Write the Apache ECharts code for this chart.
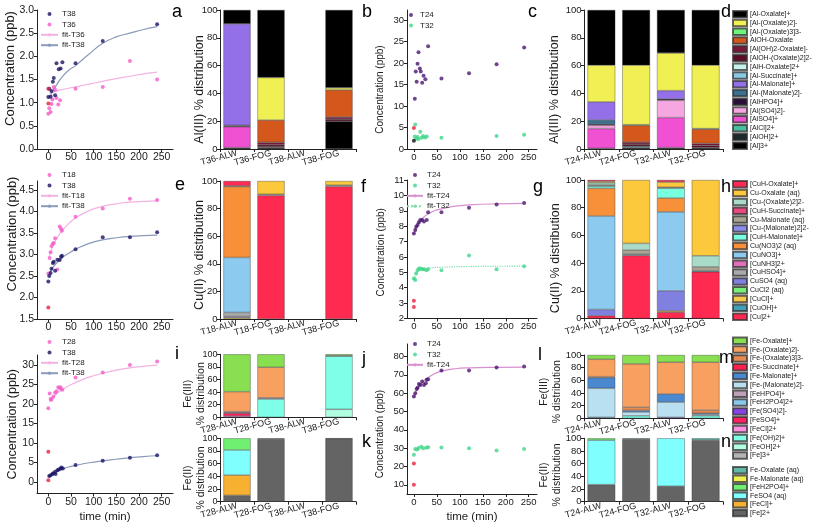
<!DOCTYPE html>
<html><head><meta charset="utf-8">
<script src="https://cdn.jsdelivr.net/npm/echarts@6/dist/echarts.min.js"></script>
<style>html,body{margin:0;padding:0;background:#fff}#c{width:815px;height:532px}</style>
</head><body><div id="c"></div>
<script>
// ---------------- DATA ----------------
const timeTicks = [0, 50, 100, 150, 200, 250];

// Panel a (Al)
const aT38 = [[0,1.12],[2,1.3],[5,1.13],[7,1.25],[10,1.45],[12,1.53],[15,1.16],[18,1.85],[23,1.72],[27,1.74],[31,1.87],[60,1.85],[120,2.33],[240,2.69]];
const aT36 = [[0,0.76],[2,0.88],[5,0.8],[7,0.97],[9,1.07],[12,1.34],[15,1.28],[18,1.1],[22,0.96],[26,1.05],[60,1.3],[120,1.34],[180,1.9],[240,1.5]];
const aInit = [[0,1.3],[0,0.98]];
const aFit36 = [[2,1.2],[15,1.24],[30,1.28],[60,1.34],[90,1.4],[120,1.46],[150,1.52],[180,1.57],[210,1.62],[240,1.66]];
const aFit38 = [[5,1.15],[10,1.25],[16,1.35],[30,1.55],[45,1.7],[60,1.8],[90,2.05],[120,2.28],[150,2.42],[180,2.5],[210,2.58],[240,2.64]];

// Panel b (Al)
const bT24 = [[2,11.7],[4,18.0],[6,15.6],[8,19.8],[10,22.5],[13,18.7],[15,18.0],[18,15.4],[21,17.0],[25,16.2],[31,23.9],[60,16.4],[120,17.6],[180,19.7],[240,23.6]];
const bT32 = [[2,2.9],[3,5.7],[5,2.4],[8,2.8],[10,2.3],[14,4.0],[17,2.6],[20,3.0],[24,2.7],[28,2.9],[60,2.6],[180,3.0],[240,3.3]];
const bInitRed = [[0,4.9]];
const bInitBlack = [[0,1.9]];

// Panel e (Cu)
const eT18 = [[0,2.56],[3,2.92],[5,3.05],[7,3.2],[10,3.25],[12,3.27],[15,3.38],[20,2.65],[25,3.65],[28,3.6],[30,3.55],[60,3.88],[120,4.07],[180,4.3],[240,4.27]];
const eT38 = [[0,2.37],[2,2.5],[5,2.57],[7,2.67],[10,2.8],[12,2.83],[15,2.62],[20,2.88],[25,2.87],[28,2.95],[30,2.97],[60,3.12],[120,3.4],[180,3.4],[240,3.52]];
const eInit = [[0,1.77]];
const eFit18 = [[2,2.95],[10,3.2],[20,3.4],[30,3.55],[45,3.72],[60,3.85],[90,4.02],[120,4.12],[150,4.18],[180,4.22],[240,4.25]];
const eFit38 = [[2,2.55],[10,2.7],[20,2.82],[30,2.92],[45,3.03],[60,3.12],[90,3.26],[120,3.34],[150,3.39],[180,3.42],[240,3.45]];

// Panel f (Cu)
const fT24 = [[0,7.53],[3,7.75],[5,7.96],[8,8.07],[11,8.25],[14,8.4],[18,8.4],[22,8.3],[28,8.4],[31,8.9],[60,8.9],[120,9.2],[180,9.4],[240,9.5]];
const fT32 = [[0,4.6],[3,4.5],[5,4.93],[8,5.14],[11,5.25],[15,5.25],[18,5.2],[22,5.2],[27,5.14],[31,5.2],[60,5.14],[120,6.1],[180,5.2],[240,5.4]];
const fInit = [[0,3.15],[0,2.75]];
const fFit24 = [[0,7.5],[5,7.9],[10,8.2],[20,8.55],[30,8.78],[45,9.0],[60,9.12],[90,9.3],[120,9.38],[180,9.45],[240,9.48]];
const fFit32 = [[0,4.55],[5,4.9],[10,5.08],[20,5.22],[30,5.28],[60,5.33],[120,5.38],[240,5.4]];

// Panel i (Fe)
const iT28 = [[0,18.9],[3,22.7],[5,21.3],[7,21.1],[11,21.9],[15,22.9],[18,23.3],[22,24.3],[26,24.0],[27,24.3],[31,23.7],[60,26.8],[120,28.1],[180,30.0],[240,30.9]];
const iT38 = [[2,1.5],[5,1.7],[9,2.0],[11,2.2],[15,2.6],[16,2.0],[20,3.0],[23,3.2],[27,3.4],[29,3.7],[32,3.4],[60,4.3],[120,5.4],[180,6.2],[240,6.8]];
const iInit = [[0,7.7],[0,0.4]];
const iFit28 = [[2,20.5],[10,21.7],[20,22.8],[30,23.6],[45,24.7],[60,25.5],[90,26.9],[120,27.9],[150,28.7],[180,29.3],[210,29.7],[240,30.0]];
const iFit38 = [[0,1.3],[10,2.0],[20,2.7],[30,3.2],[45,3.8],[60,4.2],[90,4.9],[120,5.4],[150,5.8],[180,6.2],[210,6.5],[240,6.7]];

// Panel j (Fe)
const jT24 = [[0,58.2],[3,60],[6,62.2],[8,63],[11,65],[14,64.4],[18,66.4],[22,64.5],[26,65.4],[28,67.3],[31,67.6],[60,72.4],[120,72.4],[180,74],[240,74.5]];
const jT32 = [[0,26.4],[3,29.5],[7,29.2],[10,30.1],[16,30.7],[20,30],[27,30.2],[31,30.5],[60,30.3],[120,30],[180,28.7],[240,29.5]];
const jInit = [[0,21.7],[0,10]];
const jFit24 = [[0,58],[5,61],[10,63.3],[20,66.3],[30,68.3],[45,70.6],[60,72],[90,73.3],[120,73.8],[180,74.1],[240,74.2]];

// Bar categories
const catsA = ['T36-ALW','T36-FOG','T38-ALW','T38-FOG'];
const catsE = ['T18-ALW','T18-FOG','T38-ALW','T38-FOG'];
const catsI = ['T28-ALW','T28-FOG','T38-ALW','T38-FOG'];
const catsR = ['T24-ALW','T24-FOG','T32-ALW','T32-FOG'];

// Species (legend order, top to bottom)
const alSpecies = ['[Al-Oxalate]+','[Al-(Oxalate)2]-','[Al-(Oxalate)3]3-','AlOH-Oxalate','[Al(OH)2-Oxalate]-','[AlOH-(Oxalate)2]2-','[AlH-Oxalate]2+','[Al-Succinate]+','[Al-Malonate]+','[Al-(Malonate)2]-','[AlHPO4]+','[Al(SO4)2]-','[AlSO4]+','[AlCl]2+','[AlOH]2+','[Al]3+'];
const cuSpecies = ['[CuH-Oxalate]+','Cu-Oxalate (aq)','[Cu-(Oxalate)2]2-','[CuH-Succinate]+','Cu-Malonate (aq)','[Cu-(Malonate)2]2-','[CuH-Malonate]+','Cu(NO3)2 (aq)','[CuNO3]+','[CuNH3]2+','[CuHSO4]+','CuSO4 (aq)','CuCl2 (aq)','[CuCl]+','[CuOH]+','[Cu]2+'];
const fe3Species = ['[Fe-Oxalate]+','[Fe-(Oxalate)2]-','[Fe-(Oxalate)3]3-','[Fe-Succinate]+','[Fe-Malonate]+','[Fe-(Malonate)2]-','[FeHPO4]+','[FeH2PO4]2+','[Fe(SO4)2]-','[FeSO4]+','[FeCl]2+','[Fe(OH)2]+','[FeOH]2+','[Fe]3+'];
const fe2Species = ['Fe-Oxalate (aq)','Fe-Malonate (aq)','[FeH2PO4]+','FeSO4 (aq)','[FeCl]+','[Fe]2+'];

// % distribution tables: rows = species (legend order), columns = categories
const barA = [[10,48.6,0,56],[0,30.6,0,1.5],[0,0,0,0],[0,16,0,19.5],[0,1.8,0,1.5],[0,1.5,0,1.5],[0,0,0,0],[0,0,0,0],[73,0.5,0,0],[0,0,0,0],[1,0,0,0],[0,0,0,0],[15,0,0,0],[0,0,0,0],[0,0,0,0],[1,1,0,20]];
const barC = [[39.7,39.7,31,39.7],[26.4,42.8,27,45.6],[0,0.5,0,0.5],[0,12,0,10.2],[0,1.5,0,1.5],[0,1.5,0,1.5],[0,0,0,0],[0,0,0,0],[13,0,6,0],[3,1,0,0],[0.9,0,1,0],[2.3,0,12.4,0],[14.2,0,21.6,0],[0,0,0,0],[0,0,0,0],[0.5,1,1,1]];
const barE = [[3.5,0,0,0],[0,9.6,0,3],[0,0,0,0],[0,0,0,0],[0.5,0.9,0,1],[0,0,0,0],[0,0,0,0],[51.4,0,0,0],[39.8,0,0,0],[0,0,0,0],[3,0,0,0],[0.8,0,0,0],[0,0,0,0],[1,0,0,0],[0,0,0,0],[0,89.5,0,96]];
const barG = [[1,0,1.5,0],[1,45.8,3.7,54.7],[1.5,4.8,0,8],[0,0,0,0],[1,3.1,0.8,2.8],[0,0,0,0],[1.5,0,7,0],[20,0,10,0],[67.5,0,57,0],[0,0,0,0],[0,0,0,0],[4.5,0,14.5,0],[0,0,0,0],[0,0,1,0],[0,0.8,0,0.8],[2,45.5,4.5,33.7]];
const barI = [[59.3,20.6,0,2],[31.7,48.4,0,0],[0,0,0,0],[0,0,0,0],[0,0,0,0],[0,0,0,0],[1.5,2,0,0],[0,0,0,1],[1,0,0,0],[4.5,0,0,0],[2,0,0,0],[0,29,0,84.3],[0,0,0,12.7],[0,0,0,0]];
const barL = [[6.8,14,11.5,11.5],[27.4,68.3,50,75.5],[1.6,5.2,0,5],[0,0,0,0],[16.8,2.5,13,2],[45.8,6,24,2],[0,0,0,0],[1.6,0,0,0],[0,0,1.5,0],[0,0,0,0],[0,0,0,0],[0,4,0,4],[0,0,0,0],[0,0,0,0]];
const barK = [[0,1,0,0.5],[0,0,0,0],[18.4,0,0,0],[39.6,0,0,0],[32,0,0,0],[10,99,0,99.5]];
const barN = [[0,1.5,0,3],[0,0,0,0],[3,0,0,0],[70,0,75.5,0],[0,0,0,0],[27,98.5,24.5,97]];

// ---------------- STYLE ----------------
const FONT = '"Liberation Sans", Arial, sans-serif';
const TXT = '#1a1a1a';
const C = {navy:'#1b1464', pink:'#f45cc8', purple:'#4b1670', green:'#40d68a', red:'#e8203c', black:'#111',
  fitNavy:'#8a9ab8', fitPink:'#f2b2e2', fitPurple:'#d890d0', fitGreen:'#7fdcaa'};
const alColors = ['#000000','#f0f055','#6cf57a','#d4581c','#7a1838','#5c0c24','#c4f2ec','#88c8e0','#9370e8','#3a7090','#2a1038','#f6a6e0','#f050d2','#48c0a0','#1e2a2a','#000000'];
const cuColors = ['#ff2a55','#fcc83c','#a8dcc8','#e84a80','#aaa592','#8a8cec','#78ffe0','#f8903a','#8ccaf0','#e070b8','#aaaaaa','#8080e0','#78f078','#f8c84a','#40a0b8','#ff2a50'];
const fe3Colors = ['#88e050','#f8a060','#e88a50','#ff2050','#4a88d0','#b8e0f0','#c0a0b8','#88c8e8','#8844e8','#ff2060','#ff90e0','#80ffe8','#b0ffe0','#b4b4b4'];
const fe2Colors = ['#60b8a8','#f0f050','#70f070','#80ffff','#f8b030','#646464'];

const grids = [
  {left:37, top:10, width:136, height:139},      // 0 scatter a
  {left:220, top:10, width:136, height:139},     // 1 bar a
  {left:407, top:10, width:130, height:139},     // 2 scatter b
  {left:584, top:10, width:139, height:139},     // 3 bar c
  {left:37, top:181, width:136, height:138},     // 4 scatter e
  {left:220, top:181, width:136, height:138},    // 5 bar e
  {left:407, top:180, width:130, height:138.5},  // 6 scatter f
  {left:584, top:180, width:139, height:138.5},  // 7 bar g
  {left:37, top:355, width:136, height:138.5},   // 8 scatter i
  {left:220, top:354.3, width:136, height:63},   // 9 bar i
  {left:220, top:438.3, width:136, height:63.4}, // 10 bar k
  {left:407, top:344, width:130, height:150},    // 11 scatter j
  {left:584, top:355, width:139, height:63.3},   // 12 bar l
  {left:584, top:438.3, width:139, height:63.4}  // 13 bar n
];

const xAxes = [], yAxes = [], series = [], legends = [];

function lineAxis() { return {show:true, onZero:false, lineStyle:{color:'#222', width:1}}; }
function valAxis(g, min, max, ticks, dec, fs, extra) {
  return Object.assign({
    gridIndex:g, type:'value', min:min, max:max, nameMoveOverlap:false,
    axisLine:lineAxis(),
    axisTick:{show:true, length:3, customValues:ticks, lineStyle:{color:'#222'}},
    axisLabel:{customValues:ticks, fontSize:fs, color:TXT, fontFamily:FONT, margin:3,
      formatter: v => dec ? Number(v).toFixed(dec) : String(Math.round(v))},
    splitLine:{show:false}
  }, extra || {});
}
// shift > 0 moves the rotated name up, shift < 0 moves it down
function yName(name, gap, size, shift) {
  const s = shift || 0;
  return {name:name, nameLocation:'middle', nameRotate:90, nameGap:gap, nameMoveOverlap:false,
    nameTextStyle:{fontSize:size, color:TXT, fontFamily:FONT, lineHeight:Math.round(size * 1.2),
      padding: s > 0 ? [0,0,0,2*s] : [0,-2*s,0,0]}};
}

function scatterPanel(g, xmin, xmax, ymin, ymax, yTicks, dec, fs, nameSize, gap, shift, showTime) {
  const xa = valAxis(g, xmin, xmax, timeTicks, 0, fs);
  if (showTime) Object.assign(xa, {name:'time (min)', nameLocation:'middle', nameGap:17,
    nameTextStyle:{fontSize:11.5, color:TXT, fontFamily:FONT}});
  xAxes.push(xa);
  yAxes.push(valAxis(g, ymin, ymax, yTicks, dec, fs, yName('Concentration (ppb)', gap, nameSize, shift)));
}
function pts(g, name, data, color, z) {
  series.push({type:'scatter', name:name, xAxisIndex:g, yAxisIndex:g, data:data, symbol:'circle',
    symbolSize:4, itemStyle:{color:color}, z:z || 3, silent:true});
}
function fit(g, name, data, color, dotted) {
  series.push({type:'line', name:name, xAxisIndex:g, yAxisIndex:g, data:data, smooth:true,
    symbol:'none', lineStyle:{color:color, width:1.2, type: dotted ? 'dotted' : 'solid'},
    itemStyle:{color:color}, z:2, silent:true});
}
function barPanel(g, cats, species, colors, table, name, gap, nameSize, shift, tickFs) {
  xAxes.push({gridIndex:g, type:'category', data:cats, axisLine:lineAxis(), nameMoveOverlap:false,
    axisTick:{show:true, length:3, lineStyle:{color:'#222'}},
    axisLabel:{interval:0, rotate:15, fontSize:9, color:TXT, fontFamily:FONT, margin:4}});
  yAxes.push(Object.assign({gridIndex:g, type:'value', min:0, max:100, interval:20,
    axisLine:lineAxis(), axisTick:{show:true, length:3, lineStyle:{color:'#222'}},
    axisLabel:{fontSize:tickFs || 9.5, color:TXT, fontFamily:FONT, margin:2.5}, splitLine:{show:false}},
    yName(name, gap, nameSize, shift)));
  for (let i = species.length - 1; i >= 0; i--) {
    series.push({type:'bar', name:species[i], stack:'s' + g, xAxisIndex:g, yAxisIndex:g,
      barWidth:'80%', data: table[i].map(v => v === 0 ? '-' : v),
      itemStyle:{color:colors[i], borderColor:'rgba(50,50,50,0.75)', borderWidth:0.5}, silent:true});
  }
}
function barLegend(top, species, gap) {
  legends.push({orient:'vertical', left:732, top:top, padding:0, itemWidth:14, itemHeight:6.5, itemGap:gap,
    icon:'rect', data:species, selectedMode:false,
    textStyle:{fontSize:7, lineHeight:7, color:TXT, fontFamily:FONT, padding:[0,0,0,-2]}});
}
function ptLegend(left, top, items, width) {
  legends.push({orient:'vertical', left:left, top:top, padding:0, itemWidth:width, itemHeight:4, itemGap:2.4,
    selectedMode:false,
    data: items.map(it => it.line ? {name:it.name} : {name:it.name, icon:'circle'}),
    textStyle:{fontSize:8, lineHeight:8, color:TXT, fontFamily:FONT, padding:[0,0,0,-1]}});
}

// Row 1
scatterPanel(0, -25, 275, 0, 3, [0,0.5,1,1.5,2,2.5,3], 1, 10.5, 13, 18.5, 11, false);
fit(0, 'fit-T36', aFit36, C.fitPink); fit(0, 'fit-T38', aFit38, C.fitNavy);
pts(0, 'T36', aT36, C.pink); pts(0, 'T38', aT38, C.navy); pts(0, 'init', aInit, C.red, 4);
ptLegend(40, 10, [{name:'T38'},{name:'T36'},{name:'fit-T36',line:1},{name:'fit-T38',line:1}], 17);

barPanel(1, catsA, alSpecies, alColors, barA, 'Al(III) % distribution', 12.5, 12.5, -10);

scatterPanel(2, -15, 268, 0, 32.3, [0,5,10,15,20,25,30], 0, 9.5, 10, 21, -10, false);
pts(2, 'T24', bT24, C.purple); pts(2, 'T32', bT32, C.green);
pts(2, 'init', bInitRed, C.red, 4); pts(2, 'init0', bInitBlack, C.black, 4);
ptLegend(409, 11, [{name:'T24'},{name:'T32'}], 10);

barPanel(3, catsR, alSpecies, alColors, barC, 'Al(III) % distribution', 22, 12.5, -10);
barLegend(10, alSpecies, 0.26);

// Row 2
scatterPanel(4, -25, 275, 1.5, 4.71, [1.5,2,2.5,3,3.5,4,4.5], 1, 10.5, 13, 17, 16, false);
fit(4, 'fit-T18', eFit18, C.fitPink); fit(4, 'fit-T38', eFit38, C.fitNavy);
pts(4, 'T18', eT18, C.pink); pts(4, 'T38', eT38, C.navy); pts(4, 'init', eInit, C.red, 4);
ptLegend(40, 171, [{name:'T18'},{name:'T38'},{name:'fit-T18',line:1},{name:'fit-T38',line:1}], 17);

barPanel(5, catsE, cuSpecies, cuColors, barE, 'Cu(II) % distribution', 12.5, 12.5, -5);

scatterPanel(6, -15, 268, 2, 11, [2,3,4,5,6,7,8,9,10,11], 0, 9.5, 10, 20, -3, false);
fit(6, 'fit-T24', fFit24, C.fitPurple); fit(6, 'fit-T32', fFit32, C.fitGreen, true);
pts(6, 'T24', fT24, C.purple); pts(6, 'T32', fT32, C.green); pts(6, 'init', fInit, C.red, 4);
ptLegend(406, 171, [{name:'T24'},{name:'T32'},{name:'fit-T24',line:1},{name:'fit-T32',line:1}], 16);

barPanel(7, catsR, cuSpecies, cuColors, barG, 'Cu(II) % distribution', 21, 12.5, -9);
barLegend(180, cuSpecies, 0.33);

// Row 3
scatterPanel(8, -25, 275, -3, 32.6, [0,5,10,15,20,25,30], 0, 10.5, 12.5, 17, 0, true);
fit(8, 'fit-T28', iFit28, C.fitPink); fit(8, 'fit-T38', iFit38, C.fitNavy);
pts(8, 'T28', iT28, C.pink); pts(8, 'T38', iT38, C.navy); pts(8, 'init', iInit, C.red, 4);
ptLegend(40, 338, [{name:'T28'},{name:'T38'},{name:'fit-T28',line:1},{name:'fit-T38',line:1}], 17);

barPanel(9, catsI, fe3Species, fe3Colors, barI, 'Fe(III)\n% distribution', 12, 10.5, -8, 9);
barPanel(10, catsI, fe2Species, fe2Colors, barK, 'Fe(II)\n% distribution', 12, 10.5, -8, 9);

scatterPanel(11, -15, 268, 5, 86.8, [10,20,30,40,50,60,70,80], 0, 9.5, 10, 21, -15, true);
fit(11, 'fit-T24', jFit24, C.fitPurple);
pts(11, 'T24', jT24, C.purple); pts(11, 'T32', jT32, C.green); pts(11, 'init', jInit, C.red, 4);
ptLegend(406, 340, [{name:'T24'},{name:'T32'},{name:'fit-T24',line:1}], 16);

barPanel(12, catsR, fe3Species, fe3Colors, barL, 'Fe(III)\n% distribution', 20, 10.5, -5);
barPanel(13, catsR, fe2Species, fe2Colors, barN, 'Fe(II)\n% distribution', 20, 10.5, -5);
barLegend(336.5, fe3Species, 0.33);
barLegend(466, fe2Species, 0.03);

// Panel letters
const letters = [['a',172,3],['b',362,3],['c',528,3],['d',721,3],['e',175,176],['f',361,178],['g',533,178],['h',721,178],
  ['i',175,345],['j',362,350],['k',362,433],['l',538,346],['m',719,349],['n',721,433]];
const graphic = letters.map(l => ({type:'text', left:l[1], top:l[2], silent:true,
  style:{text:l[0], fontSize:18, fill:'#000', fontFamily:FONT}}));

const chart = echarts.init(document.getElementById('c'), null, {renderer:'canvas'});
chart.setOption({
  animation:false, backgroundColor:'#fff',
  grid:grids, xAxis:xAxes, yAxis:yAxes, series:series, legend:legends, graphic:graphic,
  tooltip:{show:false}
});
</script></body></html>
